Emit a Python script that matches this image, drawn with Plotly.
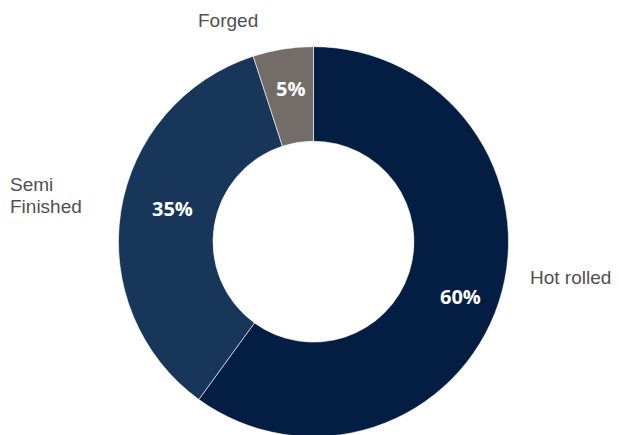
import plotly.graph_objects as go

# product mix
labels = ["Hot rolled", "Semi Finished", "Forged"]
values = [60, 35, 5]
colors = ["#031e42", "#17365a", "#736d6a"]

# the page body adds an 8px margin, so positions below are page px minus 8
W, H = 619, 435
OFF = 8


def px(x, y):
    return (x - OFF) / W, 1 - (y - OFF) / H


fig = go.Figure()

fig.add_trace(go.Pie(
    labels=labels,
    values=values,
    sort=False,
    direction="clockwise",
    rotation=0,
    hole=0.515,
    marker=dict(colors=colors, line=dict(color="#ffffff", width=0.6)),
    textinfo="none",
    hoverinfo="label+percent",
    showlegend=False,
    domain=dict(x=[0.0935, 0.8935], y=[0.0145, 0.9112]),
))

# percentage labels inside the ring
pct_pos = [(461, 296), (172, 208), (290, 88)]
pct_font = dict(family="Open Sans", size=20, color="#ffffff", weight="bold")
for v, (xp, yp) in zip(values, pct_pos):
    x, y = px(xp, yp)
    fig.add_annotation(x=x, y=y, xref="paper", yref="paper", text=f"{v}%",
                       showarrow=False, font=pct_font, xanchor="center", yanchor="middle")

lab_font = dict(family="Liberation Sans", size=19, color="#505050")
x, y = px(228, 20)
fig.add_annotation(x=x, y=y, xref="paper", yref="paper", text="Forged",
                   showarrow=False, font=lab_font, xanchor="center", yanchor="middle")
x, y = px(8, 185)
fig.add_annotation(x=x, y=y, xref="paper", yref="paper", text="Semi",
                   showarrow=False, font=lab_font, xanchor="left", yanchor="middle")
x, y = px(8, 207)
fig.add_annotation(x=x, y=y, xref="paper", yref="paper", text="Finished",
                   showarrow=False, font=lab_font, xanchor="left", yanchor="middle")
x, y = px(528, 277)
fig.add_annotation(x=x, y=y, xref="paper", yref="paper", text="Hot rolled",
                   showarrow=False, font=lab_font, xanchor="left", yanchor="middle")

# clipped body text at the right edge of the page
x, y = px(610, 9)
fig.add_annotation(x=x, y=y, xref="paper", yref="paper",
                   text="I<br>wh<br>th<br> <br>an<br>st<br>co<br>ca<br>al",
                   showarrow=False, align="left", xanchor="left", yanchor="top",
                   font=dict(family="Liberation Sans", size=13, color="#333333"))

fig.update_layout(
    width=W, height=H,
    margin=dict(l=0, r=0, t=0, b=0),
    paper_bgcolor="#ffffff",
    plot_bgcolor="#ffffff",
)

fig.write_html("out.html")
